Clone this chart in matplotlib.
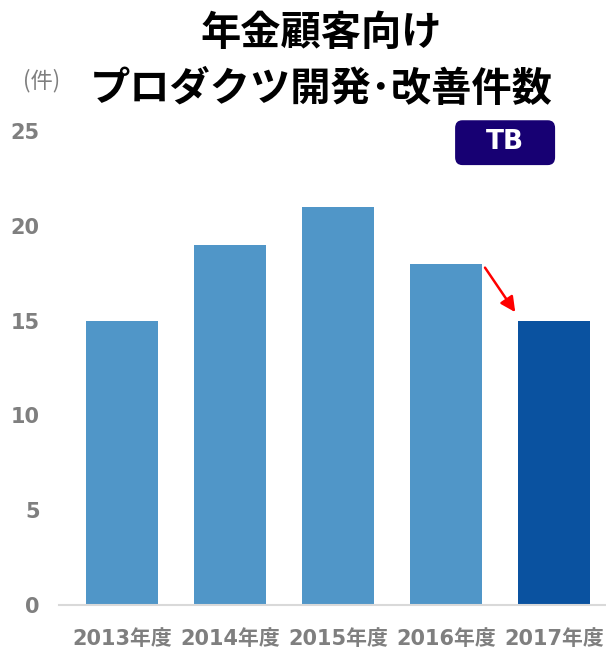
import matplotlib.pyplot as plt
from matplotlib.patches import FancyBboxPatch

plt.rcParams['font.family'] = ['DejaVu Sans', 'Noto Sans CJK JP']
cjk = ['Noto Sans CJK JP', 'DejaVu Sans']

years = ['2013年度', '2014年度', '2015年度', '2016年度', '2017年度']
counts = [15, 19, 21, 18, 15]
yticks = [0, 5, 10, 15, 20, 25]

light = '#5096c8'
dark = '#0a52a0'
gray = '#7f7f7f'

fig = plt.figure(figsize=(6.06, 6.5), dpi=100)
ax = fig.add_axes([0.0974, 0.0692, 0.9026, 0.729])

colors = [light] * (len(counts) - 1) + [dark]
x = list(range(len(counts)))
ax.bar(x, counts, width=0.667, color=colors, zorder=2)

ax.set_xlim(-0.583, 4.48)
ax.set_ylim(0, 25)
ax.set_yticks(yticks)
ax.set_xticks(x)
ax.set_xticklabels(years)
for s in ['top', 'right', 'left']:
    ax.spines[s].set_visible(False)
ax.spines['bottom'].set_color('#d9d9d9')
ax.spines['bottom'].set_linewidth(1.5)
ax.tick_params(axis='both', length=0, colors=gray, labelsize=15)
ax.tick_params(axis='x', pad=17)
ax.tick_params(axis='y', pad=14)
for lab in ax.get_xticklabels() + ax.get_yticklabels():
    lab.set_fontweight('bold')

# decline arrow between the last two years
ax.annotate('', xy=(3.64, counts[4] + 0.45), xytext=(3.36, counts[3] - 0.2),
            arrowprops=dict(arrowstyle='-|>,head_length=0.9,head_width=0.45',
                            color='#ff0000', lw=1.8, shrinkA=0, shrinkB=0))

fig.text(0.53, 0.948, '年金顧客向け', ha='center', va='center', family=cjk,
         fontsize=29, fontweight='bold', color='black')
fig.text(0.53, 0.863, 'プロダクツ開発･改善件数', ha='center', va='center', family=cjk,
         fontsize=29, fontweight='bold', color='black')
fig.text(0.068, 0.876, '(件)', ha='center', va='center', family=cjk,
         fontsize=16, color=gray)

# TB badge
badge = FancyBboxPatch((0.751, 0.746), 0.165, 0.069,
                       boxstyle='round,pad=0,rounding_size=0.012',
                       transform=fig.transFigure, facecolor='#170073',
                       edgecolor='none')
fig.patches.append(badge)
fig.text(0.8335, 0.781, 'TB', ha='center', va='center', fontsize=19,
         fontweight='bold', color='white')

fig.savefig('out.png', dpi=100)
